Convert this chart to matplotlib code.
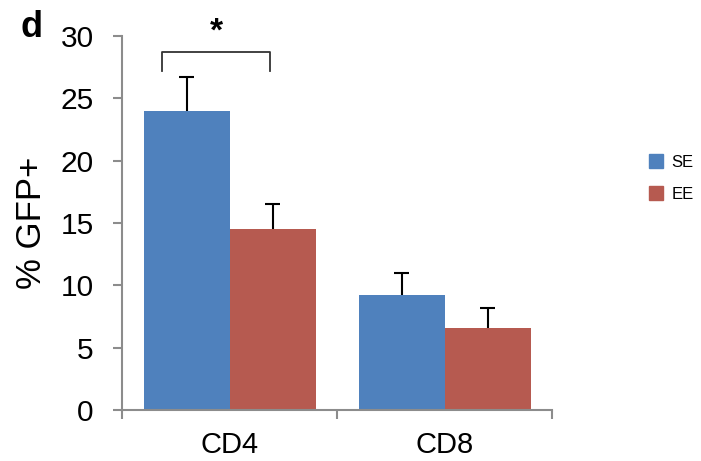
import numpy as np
import matplotlib
matplotlib.use("Agg")
from matplotlib import pyplot as plt
from matplotlib.patches import Patch

plt.rcParams['font.family'] = ['Liberation Sans', 'DejaVu Sans']

groups = ["CD4", "CD8"]
series = ["SE", "EE"]
means = {"SE": [24.0, 9.25], "EE": [14.5, 6.6]}
errs = {"SE": [2.75, 1.75], "EE": [2.0, 1.6]}
colors = {"SE": "#4F81BD", "EE": "#B65A50"}
yticks = [0, 5, 10, 15, 20, 25, 30]

axis_gray = "#8c8c8c"

fig = plt.figure(figsize=(7.01, 4.61), dpi=100)
ax = fig.add_axes([122 / 701, 1 - 410 / 461, 430 / 701, 374 / 461])

x = np.arange(len(groups))
w = 0.4
cap = 0.033
for i, s in enumerate(series):
    off = (i - 0.5) * w
    xs = x + off
    tops = np.array(means[s]) + np.array(errs[s])
    ax.bar(xs, means[s], w, color=colors[s], label=s, zorder=2)
    # upper error bars only
    ax.vlines(xs, means[s], tops, color="black", lw=1.5, zorder=3)
    ax.hlines(tops, xs - cap, xs + cap, color="black", lw=1.5, zorder=3)

ax.set_xlim(-0.5, 1.5)
ax.set_ylim(0, 30)
ax.set_yticks(yticks)
ax.set_xticks(x)
ax.set_xticklabels(groups)
ax.set_xticks([-0.5, 0.5, 1.5], minor=True)

for sp in ["top", "right"]:
    ax.spines[sp].set_visible(False)
for sp in ["left", "bottom"]:
    ax.spines[sp].set_color(axis_gray)
    ax.spines[sp].set_linewidth(1.5)

ax.tick_params(axis="y", direction="out", length=6.5, width=1.5, color=axis_gray,
               labelsize=21.5, pad=14)
ax.tick_params(axis="x", which="major", length=0, labelsize=21, pad=15)
ax.tick_params(axis="x", which="minor", direction="out", length=6.5, width=1.5,
               color=axis_gray)

ax.set_ylabel("% GFP+", fontsize=25, labelpad=9)

# significance bracket
bx = [-0.315, -0.315, 0.188, 0.188]
by = [27.2, 28.75, 28.75, 27.2]
ax.plot(bx, by, color="#333333", lw=1.3, clip_on=False)
ax.text(-0.06, 30.3, "*", ha="center", va="center", fontsize=24,
        fontweight="bold", clip_on=False)

fig.text(21 / 701, 1 - 37 / 461, "d", fontsize=26, fontweight="bold")

handles = [Patch(color=colors[s], label=s) for s in series]
fig.legend(handles=handles, loc="center left",
           bbox_to_anchor=(634 / 701, 1 - 178 / 461), frameon=False,
           fontsize=12, handlelength=0.85, handleheight=0.85,
           handletextpad=0.5, labelspacing=1.0)

fig.savefig("out.png", dpi=100)
